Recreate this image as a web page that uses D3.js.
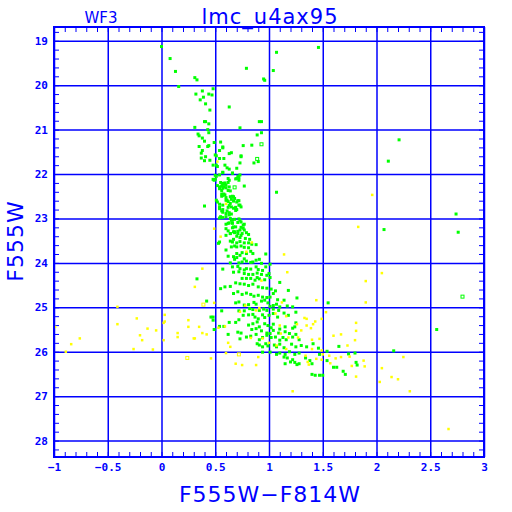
<!DOCTYPE html>
<html>
<head>
<meta charset="utf-8">
<script src="https://cdn.jsdelivr.net/npm/d3@7"></script>
<style>
  body { margin: 0; background: #fff; }
  .tick text { font-family: "DejaVu Sans Mono", monospace; font-weight: bold; font-size: 11px; fill: #0000ff; }
  .tick line { stroke: #0000ff; }
  .domain { display: none; }
</style>
</head>
<body>
<div id="chart"></div>
<script>
// colour index (F555W-F814W) and magnitude (F555W)
var greenStars = [
  [0.00,19.13],[0.08,19.40],[0.13,19.69],[0.31,19.83],[0.33,19.88],[0.16,20.03],[1.46,19.15],[1.07,19.26],
  [0.79,19.62],[1.04,19.67],[0.95,19.86],[0.96,19.89],[0.38,20.13],[0.32,20.20],[0.44,20.20],[0.47,20.22],
  [0.48,20.08],[0.39,20.27],[0.36,20.33],[0.41,20.42],[0.45,20.56],[0.63,20.49],[0.40,20.82],[0.41,20.82],
  [0.44,20.87],[0.31,20.95],[0.43,21.00],[0.44,21.07],[0.73,20.96],[0.91,20.82],[0.93,20.82],[0.89,21.12],
  [0.93,21.07],[0.34,21.10],[0.35,21.14],[0.38,21.19],[0.40,21.26],[0.35,21.38],[0.44,21.36],[0.43,21.38],
  [0.38,21.47],[0.37,21.53],[0.49,21.29],[0.55,21.28],[0.57,21.39],[0.57,21.41],[0.54,21.47],[0.76,21.36],
  [0.84,21.35],[0.65,21.52],[0.63,21.54],[0.74,21.59],[0.74,21.61],[0.50,21.57],[0.51,21.59],[0.37,21.64],
  [0.41,21.61],[0.40,21.70],[0.45,21.69],[0.54,21.65],[0.58,21.65],[0.90,21.72],[0.86,21.75],[0.73,21.75],
  [0.48,21.80],[0.51,21.80],[0.52,21.83],[0.59,21.80],[0.61,21.86],[0.63,21.89],[0.70,21.87],[0.66,21.98],
  [0.57,21.96],[2.21,21.23],[2.11,21.71],
  [0.51,22.05],[0.54,22.02],[0.57,21.97],[0.50,22.12],[0.49,22.14],[0.66,21.98],[0.73,22.02],[0.70,22.10],
  [0.72,22.08],[0.57,22.21],[0.59,22.20],[0.60,22.25],[0.56,22.27],[0.54,22.29],[0.57,22.32],[0.63,22.29],
  [0.77,22.27],[0.58,22.45],[0.59,22.47],[0.56,22.50],[0.64,22.38],[0.67,22.51],[0.65,22.57],[0.60,22.59],
  [0.62,22.62],[0.64,22.66],[0.70,22.63],[0.72,22.60],[0.73,22.70],[1.07,22.41],[0.40,22.72],[0.54,22.75],
  [0.57,22.80],[0.61,22.83],[0.63,22.87],[0.65,22.90],[0.70,22.80],[0.69,22.75],[0.55,22.96],[0.60,22.96],
  [0.64,23.00],[0.65,23.04],[0.63,23.10],[0.60,23.13],[0.73,23.04],[0.74,23.08],[0.76,23.15],[0.77,23.26],
  [0.67,23.19],[0.68,23.30],[0.71,23.34],[0.74,23.38],[0.64,23.34],[0.60,23.38],
  [0.50,22.03],[0.48,22.12],[0.62,22.10],[0.63,22.14],[0.71,22.05],[0.72,22.14],[0.69,22.11],[0.55,22.19],
  [0.57,22.23],[0.59,22.23],[0.52,22.26],[0.58,22.29],[0.60,22.31],[0.62,22.19],[0.54,22.33],[0.56,22.37],
  [0.62,22.37],[0.56,22.45],[0.57,22.48],[0.64,22.51],[0.66,22.50],[0.68,22.55],[0.67,22.61],[0.60,22.53],
  [0.61,22.59],[0.51,22.59],[0.52,22.63],[0.54,22.68],[0.57,22.70],[0.71,22.60],[0.72,22.70],[0.63,22.71],
  [0.62,22.75],[0.65,22.74],[0.67,22.77],[0.69,22.82],[0.54,22.78],[0.56,22.83],[0.57,22.86],[0.74,22.74],
  [0.60,22.89],[0.63,22.92],[0.54,22.99],[0.57,22.98],[0.66,23.04],[0.68,23.02],[0.72,23.01],[0.62,23.11],
  [0.66,23.11],[0.71,23.09],[0.77,23.13],[0.69,23.19],[0.66,23.21],[0.74,23.20],[0.76,23.22],
  [2.74,22.90],[2.76,23.31],[2.07,23.25],
  [0.67,23.30],[0.68,23.32],[0.71,23.29],[0.73,23.26],[0.75,23.34],[0.79,23.32],[0.81,23.36],[0.64,23.34],
  [0.62,23.28],[0.60,23.23],[0.70,23.40],[0.73,23.43],[0.78,23.45],[0.82,23.47],[0.67,23.47],[0.64,23.51],
  [0.66,23.53],[0.70,23.55],[0.73,23.52],[0.77,23.55],[0.81,23.55],[0.84,23.58],[0.88,23.59],[0.54,23.53],
  [0.53,23.56],
  [0.60,23.71],[0.65,23.64],[0.68,23.62],[0.70,23.64],[0.74,23.62],[0.77,23.65],[0.81,23.66],[0.83,23.74],
  [0.70,23.79],[0.75,23.77],[0.79,23.79],[0.85,23.79],[0.97,23.80],[0.62,23.85],[0.67,23.86],[0.70,23.88],
  [0.73,23.83],[0.77,23.91],[0.79,23.96],[0.83,23.99],[0.88,23.94],[0.91,23.92],[0.64,24.00],[0.68,23.92],
  [0.72,24.00],[0.75,23.98],[0.85,23.98],[0.93,24.01],[0.57,24.14],[1.01,24.03],
  [0.66,24.09],[0.71,24.08],[0.73,24.13],[0.77,24.16],[0.79,24.13],[0.83,24.14],[0.88,24.09],[0.90,24.15],
  [0.94,24.17],[0.97,24.09],[0.67,24.21],[0.72,24.20],[0.77,24.24],[0.81,24.26],[0.85,24.26],[0.89,24.23],
  [0.93,24.26],[0.98,24.28],[1.00,24.24],[0.33,24.36],[0.75,24.35],[0.79,24.35],[0.83,24.35],[0.87,24.39],
  [0.89,24.33],[0.91,24.36],[0.96,24.38],[1.01,24.33],[0.55,24.58],[0.59,24.54],[0.64,24.53],[0.69,24.45],
  [0.73,24.47],[0.77,24.48],[0.81,24.51],[0.85,24.48],[0.90,24.54],[0.94,24.56],[0.98,24.57],[1.02,24.59],
  [1.10,24.44],[1.18,24.62],[1.06,24.63],
  [0.67,24.69],[0.71,24.65],[0.75,24.71],[0.79,24.68],[0.83,24.71],[0.86,24.75],[0.90,24.73],[0.94,24.77],
  [0.98,24.78],[1.01,24.77],[1.04,24.69],[1.08,24.83],[1.14,24.84],[1.26,24.79],[1.55,24.90],[0.42,24.86],
  [0.69,24.90],[0.72,24.88],[0.77,24.95],[0.81,24.94],[0.86,24.89],[0.88,24.93],[0.93,24.86],[0.96,24.84],
  [0.99,24.90],[1.01,24.98],[1.04,24.96],[1.07,24.93],[1.10,24.99],[1.17,24.97],[1.22,24.99],[0.56,25.08],
  [0.72,25.08],[0.77,25.08],[0.82,25.03],[0.85,25.05],[0.91,25.07],[0.95,25.04],[0.98,25.07],[1.04,25.04],
  [1.09,25.07],
  [0.76,25.18],[0.81,25.17],[0.85,25.16],[0.87,25.22],[0.90,25.26],[0.94,25.17],[0.96,25.23],[1.00,25.18],
  [1.04,25.14],[1.08,25.22],[1.14,25.13],[1.18,25.18],[1.25,25.11],[0.48,25.22],[0.46,25.22],[0.54,25.43],
  [0.72,25.28],[0.81,25.40],[0.85,25.37],[0.89,25.33],[0.91,25.44],[0.96,25.37],[0.99,25.41],[1.02,25.46],
  [1.04,25.38],[1.10,25.49],[1.15,25.44],[1.22,25.47],[1.24,25.44],[1.25,25.35],[0.49,25.50],[0.62,25.61],
  [0.74,25.58],[0.84,25.50],[0.88,25.48],[0.93,25.53],[0.98,25.58],[1.04,25.52],[1.09,25.58],[1.15,25.55],
  [1.19,25.59],[0.48,25.29],[0.58,25.43],[0.63,25.34],[0.69,25.34],[0.71,25.56],[2.56,25.50],
  [0.79,25.67],[0.83,25.65],[0.88,25.61],[0.91,25.73],[0.94,25.68],[0.98,25.63],[1.01,25.59],[1.02,25.68],
  [1.06,25.67],[1.10,25.74],[1.13,25.68],[1.16,25.73],[1.22,25.67],[1.25,25.61],[1.28,25.73],[0.89,25.82],
  [0.91,25.85],[0.94,25.89],[0.97,25.82],[0.99,25.87],[1.05,25.85],[1.07,25.89],[1.10,25.83],[1.14,25.91],
  [1.21,25.83],[1.25,25.89],[1.30,25.86],[1.35,25.89],[1.41,25.82],[1.46,25.92],[1.54,25.99],[1.65,25.88],
  [1.74,26.05],[1.80,26.03],[0.73,25.71],[0.94,26.01],[1.01,26.01],[1.07,26.06],[1.10,26.03],[1.15,26.06],
  [1.19,26.00],[1.24,26.06],[1.28,26.03],[2.16,25.98],
  [1.14,26.12],[1.17,26.14],[1.22,26.18],[1.20,26.23],[1.24,26.24],[1.26,26.29],[1.28,26.27],[1.15,26.27],
  [1.34,26.14],[1.38,26.20],[1.40,26.27],[1.47,26.06],[1.54,26.20],[1.60,26.35],[1.63,26.35],[1.69,26.44],
  [1.71,26.51],[1.40,26.51],[1.43,26.53],[1.47,26.53],[1.50,26.53],[1.81,26.24],[1.82,26.30]
];

var yellowStars = [
  [0.52,21.72],[0.60,22.67],[1.96,22.47],[0.49,23.23],[0.55,23.41],[0.84,23.54],[1.14,23.81],[0.79,23.75],
  [1.83,23.19],[2.05,24.23],[0.93,24.40],[1.17,24.21],[0.38,24.13],[0.31,24.54],[1.90,24.41],
  [0.49,24.90],[0.73,25.10],[1.12,24.89],[1.44,24.84],[1.90,24.89],[0.78,24.96],[0.88,25.07],[0.91,25.02],
  [1.06,25.14],[1.16,25.20],[1.33,25.24],[1.35,25.26],[1.43,25.32],[1.49,25.26],[1.53,25.11],[0.25,25.29],
  [0.35,25.44],[0.38,25.58],[0.42,25.61],[0.53,25.46],[0.59,25.43],[1.10,25.41],[1.26,25.38],[1.35,25.41],
  [1.41,25.38],[1.30,25.52],[1.39,25.47],[1.81,25.35],[1.81,25.53],
  [1.11,25.59],[1.18,25.68],[1.27,25.68],[1.40,25.73],[1.47,25.71],[1.60,25.64],[1.67,25.61],[1.80,25.74],
  [0.31,25.70],[0.64,25.89],[0.62,25.80],[0.83,25.69],[0.94,25.70],[1.00,25.80],[1.07,25.86],[1.16,25.94],
  [1.40,25.94],[1.49,25.97],[1.73,25.86],[0.46,26.15],[0.60,26.03],[0.90,26.12],
  [1.34,26.09],[1.36,26.23],[1.37,26.29],[1.44,26.16],[1.50,26.06],[1.56,26.09],[1.49,26.18],[1.57,26.26],
  [1.62,26.15],[1.67,26.12],[1.75,26.11],[1.77,26.32],[1.88,26.20],[1.89,26.33],[1.81,26.56],[0.69,26.27],
  [0.75,26.30],[0.88,26.30],[1.22,26.89],[2.25,26.12],[2.05,26.37],[2.14,26.57],[2.20,26.62],[2.03,26.68],
  [2.31,26.89],[2.67,27.74],
  [-0.41,24.99],[-0.99,25.44],[-0.41,25.38],[-0.23,25.25],[-0.13,25.48],[-0.05,25.52],[-0.20,25.63],
  [-0.18,25.74],[-0.76,25.70],[-0.84,25.83],[-0.89,26.00],[-0.26,25.94],[-0.08,25.95],[0.03,25.17],
  [0.03,25.32],[0.02,25.35],[0.15,25.58],[0.15,25.67],[0.02,25.74],[0.25,25.44],[0.30,25.70]
];

var greenOpen = [[0.93,21.33],[0.89,21.66],[0.68,22.30],[2.80,24.76]];
var yellowOpen = [[0.39,24.94],[0.24,26.14],[0.72,26.06]];

var xMajor = [-1, -0.5, 0, 0.5, 1, 1.5, 2, 2.5, 3];
var yMajor = [19, 20, 21, 22, 23, 24, 25, 26, 27, 28];

var margin = {top: 27, right: 28, bottom: 55, left: 54},
    width = 512 - margin.left - margin.right,
    height = 512 - margin.top - margin.bottom;

var blue = '#0000ff';

var xScale = d3.scaleLinear().domain([-1, 3]).range([0, width]);
var yScale = d3.scaleLinear().domain([18.69, 28.37]).range([0, height]);

var xMinor = d3.range(-10, 31).map(function(d) { return d / 10; });
var yMinor = d3.range(94, 142).map(function(d) { return d / 5; });

var svg = d3.select('#chart')
    .append('svg')
    .attr('width', 512)
    .attr('height', 512);

var g = svg.append('g')
    .attr('transform', 'translate(' + margin.left + ',' + margin.top + ')');

// grid
g.append('g')
    .attr('transform', 'translate(0,' + height + ')')
    .call(d3.axisBottom(xScale).tickValues(xMajor).tickSize(-height).tickFormat(''))
    .selectAll('line').attr('stroke-width', 1.5);

g.append('g')
    .call(d3.axisLeft(yScale).tickValues(yMajor).tickSize(-width).tickFormat(''))
    .selectAll('line').attr('stroke-width', 1.5);

// minor ticks, pointing inward on all four sides
g.append('g')
    .attr('transform', 'translate(0,' + height + ')')
    .call(d3.axisBottom(xScale).tickValues(xMinor).tickSize(-5).tickFormat(''));
g.append('g')
    .call(d3.axisTop(xScale).tickValues(xMinor).tickSize(-5).tickFormat(''));
g.append('g')
    .call(d3.axisLeft(yScale).tickValues(yMinor).tickSize(-5).tickFormat(''));
g.append('g')
    .attr('transform', 'translate(' + width + ',0)')
    .call(d3.axisRight(yScale).tickValues(yMinor).tickSize(-5).tickFormat(''));

// labels
g.append('g')
    .attr('transform', 'translate(0,' + height + ')')
    .call(d3.axisBottom(xScale).tickValues(xMajor).tickSize(0).tickPadding(6)
        .tickFormat(function(d) { return String(d).replace('-', '\u2212'); }));

g.append('g')
    .call(d3.axisLeft(yScale).tickValues(yMajor).tickSize(0).tickPadding(6));

// stars
g.selectAll('.g').data(greenStars).enter().append('rect')
    .attr('x', function(d) { return xScale(d[0]) - 1.5; })
    .attr('y', function(d) { return yScale(d[1]) - 1.5; })
    .attr('width', 3).attr('height', 3)
    .attr('fill', '#00ff00');

g.selectAll('.go').data(greenOpen).enter().append('rect')
    .attr('x', function(d) { return xScale(d[0]) - 1.5; })
    .attr('y', function(d) { return yScale(d[1]) - 1.5; })
    .attr('width', 3).attr('height', 3)
    .attr('fill', 'none').attr('stroke', '#00ff00').attr('stroke-width', 1);

g.selectAll('.y').data(yellowStars).enter().append('rect')
    .attr('x', function(d) { return xScale(d[0]) - 1.25; })
    .attr('y', function(d) { return yScale(d[1]) - 1.25; })
    .attr('width', 2.5).attr('height', 2.5)
    .attr('fill', '#ffff00');

g.selectAll('.yo').data(yellowOpen).enter().append('rect')
    .attr('x', function(d) { return xScale(d[0]) - 1.5; })
    .attr('y', function(d) { return yScale(d[1]) - 1.5; })
    .attr('width', 3).attr('height', 3)
    .attr('fill', 'none').attr('stroke', '#ffff00').attr('stroke-width', 1);

// frame
g.append('rect')
    .attr('width', width).attr('height', height)
    .attr('fill', 'none').attr('stroke', blue).attr('stroke-width', 2);

// titles
svg.append('text')
    .attr('x', 270).attr('y', 24)
    .attr('text-anchor', 'middle')
    .style('font-family', 'DejaVu Sans').style('font-size', '21px')
    .style('letter-spacing', '1px')
    .attr('fill', blue)
    .text('lmc_u4ax95');

svg.append('text')
    .attr('x', 101).attr('y', 23)
    .attr('text-anchor', 'middle')
    .style('font-family', 'DejaVu Sans').style('font-size', '15px')
    .attr('fill', blue)
    .text('WF3');

svg.append('text')
    .attr('x', 270).attr('y', 502)
    .attr('text-anchor', 'middle')
    .style('font-family', 'DejaVu Sans').style('font-size', '22px')
    .style('letter-spacing', '1px')
    .attr('fill', blue)
    .text('F555W\u2212F814W');

svg.append('text')
    .attr('transform', 'translate(23,241) rotate(-90)')
    .attr('text-anchor', 'middle')
    .style('font-family', 'DejaVu Sans').style('font-size', '22px')
    .style('letter-spacing', '1px')
    .attr('fill', blue)
    .text('F555W');
</script>
</body>
</html>
